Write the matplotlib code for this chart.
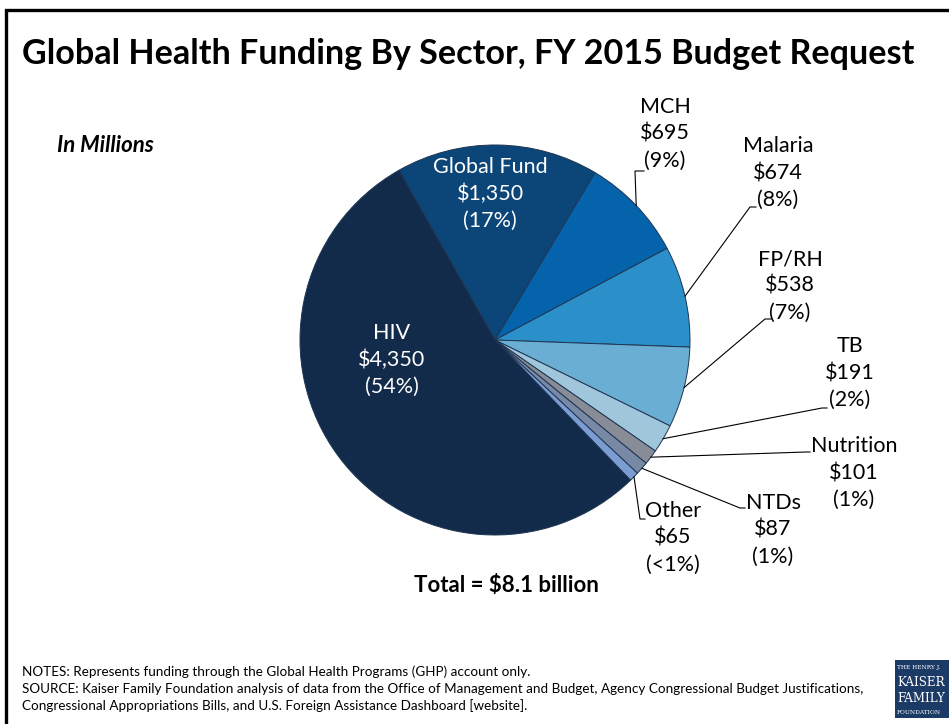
import matplotlib
matplotlib.use("Agg")
import matplotlib.pyplot as plt
import numpy as np
from matplotlib.patches import Rectangle
from matplotlib.lines import Line2D

plt.rcParams['font.family'] = ['Lato', 'DejaVu Sans']

# ---- data ----
sectors = ["Global Fund", "MCH", "Malaria", "FP/RH", "TB", "Nutrition", "NTDs", "Other", "HIV"]
amounts = [1350, 695, 674, 538, 191, 101, 87, 65, 4350]
amount_labels = ["$1,350", "$695", "$674", "$538", "$191", "$101", "$87", "$65", "$4,350"]
pct_labels = ["(17%)", "(9%)", "(8%)", "(7%)", "(2%)", "(1%)", "(1%)", "(<1%)", "(54%)"]
colors = ["#0C4577", "#0563AC", "#2B8FCA", "#6AAFD3", "#A0C6DC", "#878C96", "#7889A6", "#7C9DD1", "#122B4A"]

W, H = 949, 724
fig = plt.figure(figsize=(W / 100, H / 100), dpi=100)
fig.patch.set_facecolor("white")

def fx(px):
    return px / W

def fy(py):
    return 1 - py / H

# frame border
fig.add_artist(Line2D([fx(5.5), fx(5.5), 1.01], [-0.01, fy(10), fy(10)], color="black", lw=2.4,
                      solid_joinstyle="miter"))

# title
fig.text(fx(22), fy(54), "Global Health Funding By Sector, FY 2015 Budget Request",
         fontsize=24.6, fontweight="bold", ha="left", va="center")
fig.text(fx(57), fy(145), "In Millions", fontsize=16, fontweight="bold", style="italic",
         ha="left", va="center")

# pie
cx, cy, R = 495, 340, 195
ax = fig.add_axes([fx(cx - R), fy(cy + R), 2 * R / W, 2 * R / H])
wedges, _ = ax.pie(amounts, colors=colors, startangle=119.5, counterclock=False, radius=1,
                   wedgeprops=dict(edgecolor="#1E3552", linewidth=0.7))
ax.set_xlim(-1, 1)
ax.set_ylim(-1, 1)
ax.axis("off")

def P(px, py):
    return ((px - cx) / R, (cy - py) / R)

label_fs = 15.5
label_ls = 1.42
# inside labels
inside = {"Global Fund": (490, 194), "HIV": (392, 360)}
# outside labels: center, elbow, end
outside = {
    "MCH": ((665, 134), (635, 171), (644, 171)),
    "Malaria": ((778, 173), (750, 207), (756, 207)),
    "FP/RH": ((790, 286), (765, 319), (771, 319)),
    "TB": ((850, 373), (822, 408), (827, 408)),
    "Nutrition": ((854, 473), (806, 452), (810, 452)),
    "NTDs": ((773, 530), (740, 508), (745, 508)),
    "Other": ((673, 538), (640, 519), (645, 519)),
}

for w, name, amt, pct in zip(wedges, sectors, amount_labels, pct_labels):
    txt = f"{name}\n{amt}\n{pct}"
    if name in inside:
        x, y = P(*inside[name])
        ax.text(x, y, txt, color="white", fontsize=label_fs, ha="center", va="center",
                linespacing=label_ls)
    else:
        (tx, ty), elbow, end = outside[name]
        x, y = P(tx, ty)
        ax.text(x, y, txt, color="black", fontsize=label_fs, ha="center", va="center",
                linespacing=label_ls, clip_on=False)
        mid = np.deg2rad((w.theta1 + w.theta2) / 2)
        ex, ey = np.cos(mid), np.sin(mid)
        bx, by = P(*elbow)
        nx, ny = P(*end)
        ax.plot([ex, bx, nx], [ey, by, ny], color="black", lw=0.8, clip_on=False)

fig.text(fx(506), fy(585), "Total = $8.1 billion", fontsize=16, fontweight="bold",
         ha="center", va="center")

notes = ("NOTES: Represents funding through the Global Health Programs (GHP) account only.\n"
         "SOURCE: Kaiser Family Foundation analysis of data from the Office of Management and Budget, "
         "Agency Congressional Budget Justifications,\n"
         "Congressional Appropriations Bills, and U.S. Foreign Assistance Dashboard [website].")
fig.text(fx(22), fy(689), notes, fontsize=9.7, ha="left", va="center", linespacing=1.42)

# logo
fig.add_artist(Rectangle((fx(895), fy(718)), 0.1, (718 - 660) / H, facecolor="#1B3A66",
                         edgecolor="none"))
fig.text(fx(897), fy(667), "THE HENRY J.", fontsize=4.2, color="white", ha="left", va="center",
         family="DejaVu Serif")
fig.text(fx(897), fy(683), "KAISER", fontsize=8.6, color="white", ha="left", va="center",
         family="DejaVu Serif")
fig.text(fx(897), fy(699), "FAMILY", fontsize=8.6, color="white", ha="left", va="center",
         family="DejaVu Serif")
fig.text(fx(897), fy(713), "FOUNDATION", fontsize=4.2, color="white", ha="left", va="center",
         family="DejaVu Serif")

fig.savefig("out.png", dpi=100)
